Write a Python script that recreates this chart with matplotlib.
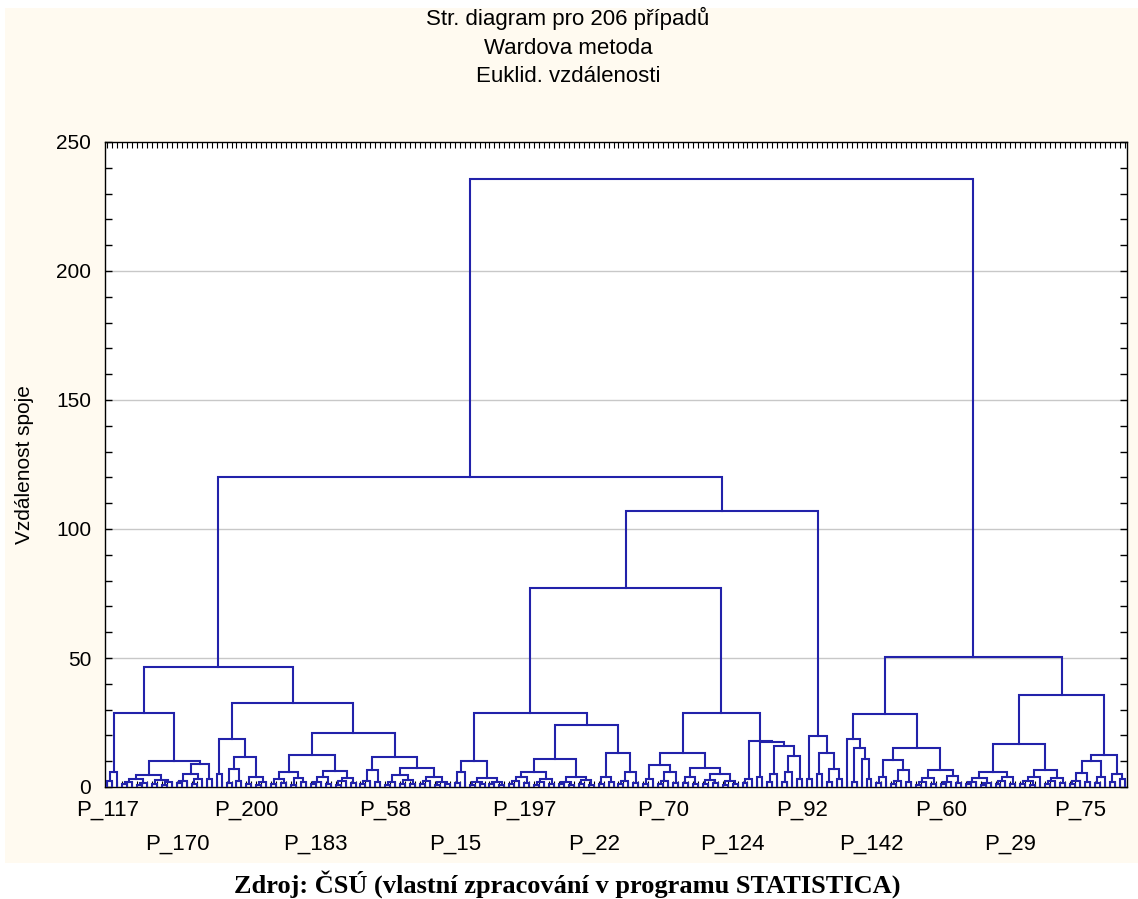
import re
import matplotlib
matplotlib.use("Agg")
import matplotlib.pyplot as plt
import matplotlib.transforms as mtransforms
from matplotlib.patches import Rectangle

# ---------------- data ----------------
# clusters written as nested "(left right)height" strings, x = one case
seg_A = "(((x x)2.5 x)6 (((((x x)1 x)2 ((x x)0.8 x)1.5)3.2 ((x x)1.2 ((x x)0.6 x)1.8)2.8)4.6 ((((x x)1.5 x)2.5 ((x x)1 x)3)5 (x x)3)8.8)10)28.5"
seg_B = ("(((x x)5 (((x x)1.5 (x x)2.5)7 ((x x)1 ((x x)0.7 x)2)4)11.6)18.6 "
         "(((((x x)1 (x x)1.5)3 ((x x)0.8 (x x)2)3.5)6 ((((x x)1 x)2 (x x)1.2)4 (((x x)0.9 x)2.2 (x x)1.5)3.5)6.2)12.4 "
         "((((x x)1 x)2.5 (x x)1.8)6.6 ((((x x)0.8 x)2 ((x x)1 (x x)1.3)2.6)4.5 (((x x)1.1 x)2.4 ((x x)0.7 (x x)1)2)4)7.4)11.6)21)32.6")
seg_C1 = "(((x x)1.5 x)6 (((x x)0.8 (x x)1.2)2 ((x x)1 (x x)0.6)1.8)3.5)10"
seg_C2 = ("((((((x x)1 x)2.2 (x x)1.4)3.8 (((x x)0.9 x)1.8 (x x)1.2)3)5.8 (((x x)1 (x x)0.7)2 ((x x)1.3 (x x)0.9)2.6)4)10.9 "
          "(((x x)1.2 (x x)2)4 (((x x)1 x)2.4 (x x)1.6)6)13)24")
seg_D = ("(((((x x)1 x)3 (((x x)1.2 x)2.5 (x x)1.5)6)8.5 (((x x)1.4 (x x)1)4 (((x x)1 (x x)1.5)2.8 ((x x)0.8 (x x)1.2)2.2)5)7.4)13 "
         "(((x x)1.5 x)3 ((x x)4 (((x x)2 x)5 (((x x)2 x)6 (x x)3)12)16)17.5)18)28.6")
seg_E = "((x x)3 ((x x)5 ((x x)2 (x x)3)7)13)19.7"
seg_F = ("((x ((x x)2 (x (x x)3)11)15)18.5 "
         "((((x x)1.5 x)4 (((x x)1 x)2.5 (x x)1.8)6.5)10.5 ((((x x)0.8 x)2 (x x)1.2)3.6 (((x x)1 x)2.1 (x x)1.4)4.2)6.5)15)28.4")
seg_G = ("((((((x x)1 x)2 ((x x)0.7 x)1.6)3.5 (((x x)1.3 x)2.4 (x x)1)4)6 ((((x x)1.1 (x x)0.8)2.2 x)4 (((x x)1 x)2.5 (x x)1.6)3.6)6.5)16.7 "
         "(((((x x)1 x)2.5 (x x)2)5.5 ((x x)1.5 x)4)10 ((x x)2 (x x)3)5)12.4)35.5")

segments = {"A": seg_A, "B": seg_B, "C1": seg_C1, "C2": seg_C2,
            "D": seg_D, "E": seg_E, "F": seg_F, "G": seg_G}
# upper-level joins: (new name, left, right, linkage distance)
join_names = ["C", "AB", "CD", "CDE", "L", "FG", "root"]
join_left = ["C1", "A", "C", "CD", "AB", "F", "L"]
join_right = ["C2", "B", "D", "E", "CDE", "G", "FG"]
join_height = [28.6, 46.5, 77.0, 107.0, 120.0, 50.5, 235.5]

tick_labels = ["P_117", "P_170", "P_200", "P_183", "P_58", "P_15", "P_197", "P_22",
               "P_70", "P_124", "P_92", "P_142", "P_60", "P_29", "P_75"]
n_cases = 206
label_step = 14

title_lines = ["Str. diagram pro 206 případů", "Wardova metoda", "Euklid. vzdálenosti"]
y_label = "Vzdálenost spoje"
caption = "Zdroj: ČSÚ (vlastní zpracování v programu STATISTICA)"


# ---------------- helpers ----------------
def parse(s):
    toks = re.findall(r"\(|\)[0-9.]+|x", s)
    pos = [0]

    def node():
        t = toks[pos[0]]
        pos[0] += 1
        if t == "x":
            return "leaf"
        left = node()
        right = node()
        t2 = toks[pos[0]]
        pos[0] += 1
        return (float(t2[1:]), left, right)

    return node()


nodes = {k: parse(v) for k, v in segments.items()}
for nm, l, r, h in zip(join_names, join_left, join_right, join_height):
    nodes[nm] = (h, nodes[l], nodes[r])
root = nodes["root"]

# ---------------- figure ----------------
W, H = 1138, 899
fig = plt.figure(figsize=(W / 100, H / 100), dpi=100)
fig.patch.set_facecolor("white")
fig.add_artist(Rectangle((5 / W, (H - 863) / H), 1 - 5 / W, (863 - 8) / H,
                         transform=fig.transFigure, facecolor="#FFFAF0",
                         edgecolor="none", zorder=-10))

ax = fig.add_axes([105 / W, 112 / H, 1022 / W, 645 / H])
ax.set_facecolor("white")

line_color = "#2222AA"
counter = [0]


def draw(n):
    if n == "leaf":
        x = counter[0] + 0.5
        counter[0] += 1
        return x, 0.0
    h, l, r = n
    xl, hl = draw(l)
    xr, hr = draw(r)
    ax.plot([xl, xl, xr, xr], [hl, h, h, hr], color=line_color, lw=1.5,
            solid_joinstyle="miter", zorder=3)
    return (xl + xr) / 2, h


draw(root)

ax.set_xlim(0, n_cases)
ax.set_ylim(0, 250)

for g in [50, 100, 150, 200]:
    ax.axhline(g, color="#C8C8C8", lw=1.0, zorder=1)

ax.set_yticks([0, 50, 100, 150, 200, 250])
ax.set_yticks(range(0, 251, 10), minor=True)
ax.set_xticks([])
ax.set_xticks([i + 0.5 for i in range(n_cases)], minor=True)
ax.tick_params(axis="y", which="both", direction="in", left=True, right=True,
               length=5, width=1, labelsize=15, pad=10)
ax.tick_params(axis="x", which="minor", direction="in", top=True, bottom=True,
               length=4, width=0.8)
for lab in ax.get_yticklabels():
    lab.set_fontfamily("Liberation Sans")
for sp in ax.spines.values():
    sp.set_color("black")
    sp.set_linewidth(1.0)

trans = mtransforms.blended_transform_factory(ax.transData, ax.transAxes)
for k, lab in enumerate(tick_labels):
    x = k * label_step + 0.5
    yoff = -0.020 if k % 2 == 0 else -0.073
    ax.text(x, yoff, lab, transform=trans, ha="center", va="top",
            fontsize=16, family="Liberation Sans")

ax.set_ylabel(y_label, fontsize=15, family="Liberation Sans", labelpad=16)

for i, t in enumerate(title_lines):
    fig.text(568 / W, 1 - (25 + 28.5 * i) / H, t, ha="center", va="baseline",
             fontsize=16, family="Liberation Sans")

fig.text(567 / W, 1 - 884 / H, caption, ha="center", va="center",
         fontsize=19, family="Liberation Serif", fontweight="bold")

fig.savefig("out.png", dpi=100)
